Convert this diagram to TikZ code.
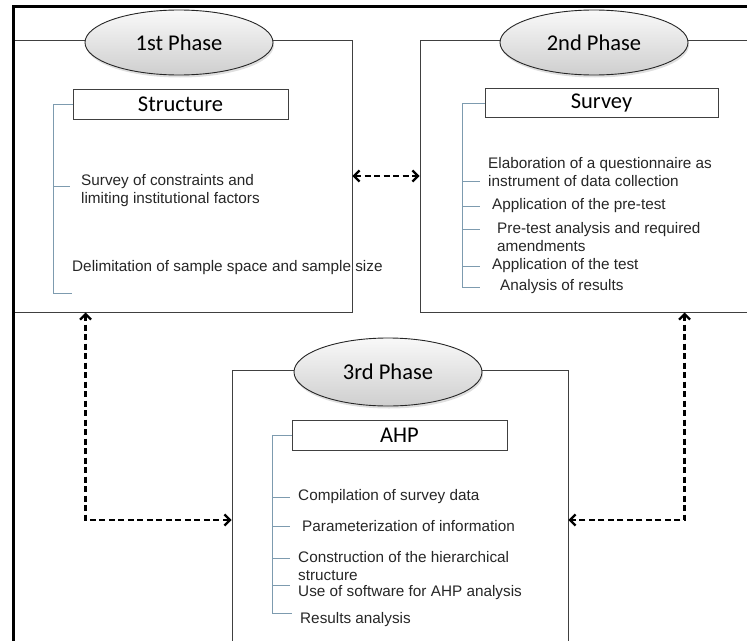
\documentclass[tikz,border=0pt]{standalone}
\usepackage{fontspec}
\setmainfont{Liberation Sans}
\newfontfamily\headfont{Carlito}
\usetikzlibrary{shapes.geometric,arrows.meta,shadows}
\definecolor{brkcol}{RGB}{125,155,175}

\tikzset{
  phasebox/.style={draw=black!75, line width=0.9pt, rectangle, inner sep=0pt},
  phaseoval/.style={ellipse, draw=black!85, line width=0.9pt,
    top color=gray!5, bottom color=gray!38,
    minimum width=188pt, minimum height=65pt,
    font=\headfont\fontsize{22.5}{26}\selectfont,
    drop shadow={opacity=0.25, shadow xshift=1pt, shadow yshift=-2.5pt}},
  titlebox/.style={draw=black!75, line width=0.9pt, fill=white,
    minimum width=215pt, minimum height=30pt,
    font=\headfont\fontsize{22.5}{26}\selectfont},
  item/.style={anchor=west, align=left, inner sep=0pt, text=black!85,
    font=\fontsize{15.3}{18}\selectfont},
  brk/.style={draw=brkcol, line width=0.7pt},
  dasharrow/.style={dash pattern=on 6pt off 3.5pt, line width=2.3pt,
    {Straight Barb[length=5.5pt,width=11pt]}-{Straight Barb[length=5.5pt,width=11pt]}}
}

\begin{document}
\begin{tikzpicture}[x=1pt,y=-1pt]
    \useasboundingbox (0,0) rectangle (747,640);
    \clip (0,0) rectangle (747,640);

    % Phase boxes
    \node[phasebox, minimum width=339pt, minimum height=272pt] (ph1) at (182.5,176) {};
    \node[phasebox, minimum width=360pt, minimum height=272pt] (ph2) at (600,176) {};
    \node[phasebox, minimum width=336pt, minimum height=300pt] (ph3) at (400,520) {};

    % Outer frame
    \draw[line width=3pt] (13,6) rectangle (800,700);

    % Phase ovals
    \node[phaseoval] (ov1) at (179,42.5) {1st Phase};
    \node[phaseoval] (ov2) at (594,42.5) {2nd Phase};
    \node[phaseoval, minimum height=68pt] (ov3) at (388,372) {3rd Phase};

    % Title boxes
    \node[titlebox] (st) at (180.5,104) {Structure};
    \node[titlebox, minimum width=233pt, minimum height=29pt] (sv) at (601.5,103) {Survey};
    \node[titlebox] (ahp) at (399.5,435) {AHP};

    % 1st phase items
    \node[item] (s1) at (81,191) {Survey of constraints and\\limiting institutional factors};
    \node[item] (s2) at (72,268) {Delimitation of sample space and sample size};
    \draw[brk] (st.west) -| (53,293) -- (72,293);
    \draw[brk] (53,186) -- (70,186);

    % 2nd phase items
    \node[item] (q1) at (488,172.5) {Elaboration of a questionnaire as\\instrument of data collection};
    \node[item] (q2) at (492,206) {Application of the pre-test};
    \node[item] (q3) at (497,237.5) {Pre-test analysis and required\\amendments};
    \node[item] (q4) at (492,266) {Application of the test};
    \node[item] (q5) at (500,287) {Analysis of results};
    \draw[brk] (sv.west) -| (462,287) -- (480,287);
    \foreach \y in {181,206,229,266}
        \draw[brk] (462,\y) -- (480,\y);

    % 3rd phase items
    \node[item] (a1) at (298,497) {Compilation of survey data};
    \node[item] (a2) at (302,526) {Parameterization of information};
    \node[item] (a3) at (298,566) {Construction of the hierarchical\\structure};
    \node[item] (a4) at (298,593) {Use of software for AHP analysis};
    \node[item] (a5) at (300,620) {Results analysis};
    \draw[brk] (ahp.west) -| (272,613) -- (292,613);
    \foreach \y in {497,526,558,585}
        \draw[brk] (272,\y) -- (290,\y);

    % Dashed links between phases
    \draw[dasharrow] (ph1.east) -- (ph2.west);
    \draw[dasharrow] ([xshift=73pt]ph1.south west) |- (ph3.west);
    \draw[dasharrow] ([xshift=265pt]ph2.south west) |- (ph3.east);

\end{tikzpicture}
\end{document}
